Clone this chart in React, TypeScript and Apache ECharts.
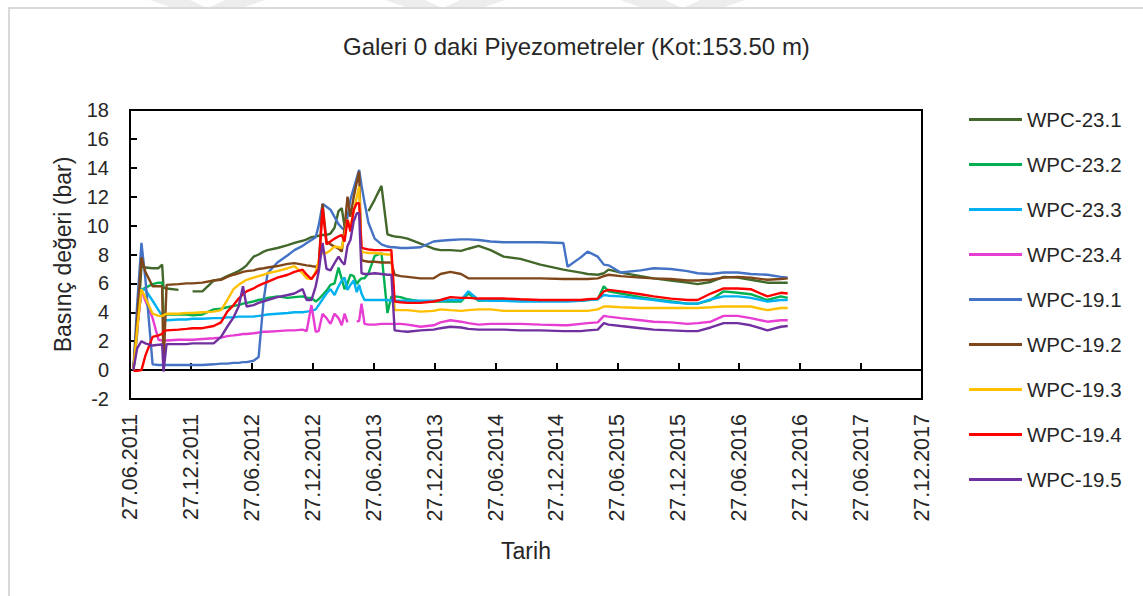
import React, { useEffect, useRef } from "react";
import * as echarts from "echarts";

// Measurement dates (DD.MM.YYYY), shared by all piezometers
const dates = [
  "07.07.2011", "18.07.2011", "31.07.2011", "12.08.2011", "03.09.2011", "21.09.2011", "02.10.2011", "06.10.2011", "15.10.2011", "20.11.2011",
  "14.12.2011", "01.01.2012", "31.01.2012", "05.03.2012", "26.03.2012", "14.04.2012", "03.05.2012", "18.05.2012", "31.05.2012", "11.06.2012",
  "02.07.2012", "17.07.2012", "01.08.2012", "13.08.2012", "12.09.2012", "13.10.2012", "02.11.2012", "27.11.2012", "09.12.2012", "23.12.2012",
  "05.01.2013", "14.01.2013", "26.01.2013", "07.02.2013", "19.02.2013", "03.03.2013", "14.03.2013", "23.03.2013", "31.03.2013", "09.04.2013",
  "18.04.2013", "28.04.2013", "07.05.2013", "14.05.2013", "21.05.2013", "30.05.2013", "11.06.2013", "30.06.2013", "20.07.2013", "07.08.2013",
  "19.08.2013", "29.08.2013", "16.09.2013", "07.10.2013", "15.11.2013", "24.12.2013", "14.01.2014", "13.02.2014", "16.03.2014", "06.04.2014",
  "07.05.2014", "12.06.2014", "21.07.2014", "10.09.2014", "09.11.2014", "17.01.2015", "30.01.2015", "10.03.2015", "29.03.2015", "29.04.2015",
  "17.05.2015", "31.05.2015", "07.07.2015", "05.09.2015", "14.10.2015", "05.12.2015", "24.01.2016", "24.02.2016", "02.04.2016", "11.05.2016",
  "22.06.2016", "31.07.2016", "20.09.2016", "30.10.2016", "20.11.2016",
];

const wpc231 = [
  0, 2.5, 7.2, 7.1, 7.05, 7.05, 7.3, 5.7, 5.65, 5.55,
  null, 5.45, 5.45, 6.2, 6.3, 6.5, 6.7, 6.85, 7.05, 7.25,
  7.85, 8.0, 8.2, 8.3, 8.45, 8.65, 8.8, 8.95, 9.05, 9.2,
  9.25, 9.3, 9.35, 9.35, 9.45, 9.85, 11.0, 11.2, 9.95, null,
  null, null, null, null, null, null, 11.0, 11.8, 12.75, 9.4,
  9.3, 9.25, 9.2, 9.1, 8.75, 8.4, 8.3, 8.3, 8.25, 8.4,
  8.6, 8.3, 7.85, 7.7, 7.3, 6.95, 6.9, 6.75, 6.65, 6.6,
  6.7, 6.95, 6.75, 6.5, 6.35, 6.2, 6.05, 5.95, 6.1, 6.45,
  6.4, 6.25, 6.05, 6.05, 6.05,
];
const wpc232 = [
  0, 3.0, 5.55, 5.7, 5.95, 6.05, 6.05, 3.9, 3.85, 3.85,
  3.85, 3.8, 3.85, 4.2, 4.25, 4.35, 4.45, 4.5, 4.6, 4.65,
  4.75, 4.85, 4.9, 5.0, 5.1, 5.0, 5.05, 5.1, 5.0, 5.0,
  4.75, 4.9, 5.2, 5.5, 5.9, 6.0, 7.1, 6.3, 5.6, 6.0,
  6.6, 6.5, 5.95, 6.2, 6.35, 6.35, 6.7, 7.9, 8.1, 3.95,
  5.1, 5.1, 5.05, 4.9, 4.75, 4.75, 4.75, 4.75, 4.75, 5.3,
  4.8, 4.85, 4.85, 4.85, 4.8, 4.8, 4.8, 4.8, 4.85, 4.9,
  5.8, 5.45, 5.3, 5.05, 4.9, 4.75, 4.6, 4.6, 4.85, 5.45,
  5.35, 5.25, 4.85, 5.1, 5.0,
];
const wpc233 = [
  0, 3.0, 5.6, 5.55, 4.8, 4.15, 3.75, 3.55, 3.45, 3.5,
  3.5, 3.55, 3.55, 3.6, 3.6, 3.65, 3.65, 3.7, 3.7, 3.7,
  3.7, 3.75, 3.8, 3.85, 3.9, 3.95, 4.0, 4.0, 4.05, 4.1,
  4.2, 4.5, 4.9, 5.3, 5.6, 5.2, 5.8, 6.2, 6.4, 5.55,
  5.9, 6.2, 5.4, 5.9, 5.3, 4.85, 4.85, 4.85, 4.85, 4.85,
  4.8, 4.8, 4.8, 4.8, 4.8, 4.8, 4.8, 4.85, 4.85, 5.45,
  4.85, 4.8, 4.8, 4.75, 4.75, 4.75, 4.75, 4.8, 4.85, 4.9,
  5.2, 5.15, 5.1, 4.95, 4.85, 4.7, 4.6, 4.6, 4.9, 5.1,
  5.1, 5.0, 4.75, 4.85, 4.85,
];
const wpc234 = [
  0, 2.8, 5.5, 4.8, 3.6, 2.1, 2.05, 2.05, 2.05, 2.1,
  2.1, 2.1, 2.15, 2.2, 2.25, 2.35, 2.4, 2.45, 2.5, 2.5,
  2.55, 2.6, 2.65, 2.65, 2.7, 2.75, 2.75, 2.8, 2.7, 4.5,
  2.65, 2.7, 3.9, 3.6, 3.2, 3.9, 3.6, 3.1, 3.9, 3.3,
  null, null, 3.35, 3.4, 4.6, 3.2, 3.15, 3.15, 3.2, 3.2,
  3.2, 3.2, 3.2, 3.15, 3.0, 3.1, 3.3, 3.45, 3.35, 3.25,
  3.15, 3.2, 3.2, 3.2, 3.15, 3.1, 3.1, 3.2, 3.25, 3.3,
  3.75, 3.7, 3.6, 3.45, 3.35, 3.3, 3.2, 3.25, 3.35, 3.75,
  3.75, 3.6, 3.35, 3.45, 3.45,
];
const wpc191 = [
  0, 4.5, 8.8, 6.3, 0.4, 0.35, 0.35, 0.35, 0.35, 0.35,
  0.35, 0.35, 0.35, 0.4, 0.45, 0.45, 0.5, 0.5, 0.55, 0.55,
  0.65, 0.9, 4.85, 6.7, 7.45, 7.95, 8.3, 8.6, 8.8, 9.0,
  9.2, 10.0, 11.5, 11.3, 11.1, 10.6, 10.1, 9.85, 9.7, 10.6,
  11.8, 12.6, 13.3, 13.85, 12.8, 11.6, 10.2, 9.1, 8.7, 8.55,
  8.5, 8.5, 8.45, 8.45, 8.5, 8.9, 8.95, 9.0, 9.05, 9.05,
  9.0, 8.9, 8.85, 8.85, 8.85, 8.8, 7.15, 7.8, 8.2, 7.85,
  7.3, 7.25, 6.75, 6.9, 7.05, 7.0, 6.85, 6.7, 6.65, 6.75,
  6.75, 6.65, 6.6, 6.45, 6.4,
];
const wpc192 = [
  0, 3.5, 7.8, 6.8, 5.8, 5.8, 5.8, 0.1, 5.9, 5.95,
  6.0, 6.0, 6.05, 6.2, 6.25, 6.45, 6.6, 6.7, 6.8, 6.85,
  6.9, 7.0, 7.05, 7.1, 7.2, 7.35, 7.4, 7.3, 7.25, 7.2,
  7.15, 7.3, 11.5, 8.9, 8.7, 8.55, 8.4, 8.2, 9.8, 12.0,
  10.6, 12.0, 13.0, 13.75, 7.6, 7.55, 7.5, 7.5, 7.45, 7.45,
  7.45, 6.6, 6.5, 6.45, 6.35, 6.35, 6.65, 6.8, 6.65, 6.35,
  6.35, 6.35, 6.35, 6.35, 6.35, 6.3, 6.3, 6.3, 6.3, 6.35,
  6.5, 6.6, 6.5, 6.4, 6.35, 6.3, 6.2, 6.2, 6.25, 6.4,
  6.45, 6.4, 6.25, 6.3, 6.35,
];
const wpc193 = [
  0, 2.8, 5.6, 5.0, 3.9, 3.75, 3.75, 3.8, 3.9, 3.9,
  3.95, 3.95, 4.0, 4.05, 4.15, 4.85, 5.6, 5.9, 6.1, 6.25,
  6.4, 6.5, 6.6, 6.7, 6.85, 7.05, 7.2, 6.7, 6.35, 6.3,
  6.8, 7.6, 8.2, 8.1, 8.3, 8.55, 8.5, 8.45, 9.3, 10.4,
  9.95, 11.0, 12.0, 12.7, 8.2, 8.15, 8.1, 8.1, 8.05, 8.0,
  8.0, 4.15, 4.15, 4.15, 4.05, 4.1, 4.2, 4.15, 4.1, 4.15,
  4.2, 4.2, 4.1, 4.1, 4.1, 4.1, 4.1, 4.1, 4.1, 4.2,
  4.4, 4.4, 4.35, 4.3, 4.3, 4.3, 4.3, 4.3, 4.35, 4.4,
  4.4, 4.4, 4.15, 4.3, 4.3,
];
const wpc194 = [
  -0.05, -0.05, 0.0, 1.0, 2.3, 2.4, 2.5, 2.7, 2.75, 2.8,
  2.85, 2.9, 2.9, 3.05, 3.3, 4.05, 4.5, 4.95, 5.25, 5.45,
  5.65, 5.85, 6.0, 6.1, 6.4, 6.6, 6.8, 6.95, 6.6, 6.3,
  6.7, 7.0, 11.2, 8.7, 8.9, 9.1, 9.25, 9.35, 8.9, 10.4,
  9.6, 11.1, 11.55, 11.55, 8.5, 8.4, 8.35, 8.3, 8.3, 8.3,
  8.3, 4.75, 4.7, 4.65, 4.65, 4.75, 4.85, 5.05, 5.0, 5.0,
  4.95, 4.95, 4.95, 4.9, 4.85, 4.85, 4.85, 4.85, 4.9, 4.95,
  5.45, 5.55, 5.45, 5.25, 5.1, 4.95, 4.85, 4.85, 5.3, 5.65,
  5.65, 5.6, 5.1, 5.35, 5.3,
];
const wpc195 = [
  0, 1.5, 2.0, 1.85, 1.7, 1.75, 1.8, -0.1, 1.8, 1.8,
  1.8, 1.85, 1.85, 1.85, 2.3, 3.0, 3.65, 4.4, 5.8, 4.4,
  4.5, 4.65, 4.75, 4.85, 5.05, 5.2, 5.3, 5.6, 4.85, 4.85,
  5.8, 6.8, 8.8, 7.0, 6.9, 7.4, 7.85, 7.5, 7.3, 8.6,
  9.0, 10.3, 10.85, 10.85, 6.7, 6.65, 6.65, 6.7, 6.65, 6.6,
  6.6, 2.75, 2.7, 2.65, 2.75, 2.8, 2.9, 3.0, 2.95, 2.85,
  2.8, 2.8, 2.8, 2.75, 2.75, 2.7, 2.7, 2.7, 2.75, 2.8,
  3.25, 3.15, 3.05, 2.9, 2.8, 2.75, 2.7, 2.7, 2.95, 3.25,
  3.25, 3.1, 2.75, 3.0, 3.05,
];

const seriesNames = ["WPC-23.1", "WPC-23.2", "WPC-23.3", "WPC-23.4", "WPC-19.1", "WPC-19.2", "WPC-19.3", "WPC-19.4", "WPC-19.5"];
const seriesValues = [wpc231, wpc232, wpc233, wpc234, wpc191, wpc192, wpc193, wpc194, wpc195];
const seriesColors = ["#43682B", "#00B050", "#00B0F0", "#E83DD2", "#4472C4", "#7F4619", "#FFC000", "#FF0000", "#7030A0"];

const titleText = "Galeri 0 daki Piyezometreler (Kot:153.50 m)";
const xAxisTitle = "Tarih";
const yAxisTitle = "Basınç değeri (bar)";

// months elapsed since 27.06.2011 (axis ticks fall on the 27th every 6 months)
function toMonths(s: string): number {
  const [d, m, y] = s.split(".").map(Number);
  let ay = y;
  let am = m;
  if (d < 27) {
    am -= 1;
    if (am < 1) {
      am = 12;
      ay -= 1;
    }
  }
  let ny = ay;
  let nm = am + 1;
  if (nm > 12) {
    nm = 1;
    ny += 1;
  }
  const anchor = Date.UTC(ay, am - 1, 27);
  const next = Date.UTC(ny, nm - 1, 27);
  const t = Date.UTC(y, m - 1, d);
  return (ay - 2011) * 12 + (am - 6) + (t - anchor) / (next - anchor);
}

function monthLabel(v: number): string {
  const total = 5 + Math.round(v);
  const y = 2011 + Math.floor(total / 12);
  const mo = (total % 12) + 1;
  return `27.${mo < 10 ? "0" + mo : mo}.${y}`;
}

const FONT = "'Liberation Sans', Arial, sans-serif";
const TEXT = "#262626";
const WATERMARK = "#EDEDED";

export default function App() {
  const ref = useRef<HTMLDivElement>(null);

  useEffect(() => {
    if (!ref.current) return;
    const chart = echarts.init(ref.current, undefined, { renderer: "svg" });
    const xs = dates.map(toMonths);

    chart.setOption({
      animation: false,
      backgroundColor: "#ffffff",
      textStyle: { fontFamily: FONT },
      title: {
        text: titleText,
        left: 338,
        top: 29,
        textStyle: { fontFamily: FONT, fontSize: 24, fontWeight: "normal", color: TEXT },
      },
      graphic: [
        {
          type: "polygon",
          silent: true,
          shape: { points: [[150, 0], [190, 0], [205, 7], [170, 7]] },
          style: { fill: WATERMARK },
        },
        {
          type: "polygon",
          silent: true,
          shape: { points: [[225, 0], [265, 0], [245, 7], [210, 7]] },
          style: { fill: WATERMARK },
        },
        {
          type: "polygon",
          silent: true,
          shape: { points: [[385, 0], [425, 0], [440, 7], [405, 7]] },
          style: { fill: WATERMARK },
        },
        {
          type: "polygon",
          silent: true,
          shape: { points: [[460, 0], [505, 0], [485, 7], [445, 7]] },
          style: { fill: WATERMARK },
        },
        {
          type: "polygon",
          silent: true,
          shape: { points: [[620, 0], [665, 0], [680, 7], [640, 7]] },
          style: { fill: WATERMARK },
        },
        {
          type: "polygon",
          silent: true,
          shape: { points: [[700, 0], [745, 0], [725, 7], [685, 7]] },
          style: { fill: WATERMARK },
        },
        {
          type: "rect",
          silent: true,
          shape: { x: 9, y: 8, width: 1400, height: 800 },
          style: { fill: "none", stroke: "#D9D9D9", lineWidth: 2 },
        },
      ],
      legend: {
        orient: "vertical",
        left: 964,
        top: 104,
        itemWidth: 53,
        itemHeight: 3,
        itemGap: 24,
        icon: "rect",
        data: seriesNames,
        textStyle: { fontFamily: FONT, fontSize: 20.5, color: TEXT, lineHeight: 20 },
      },
      grid: {
        left: 130,
        top: 110,
        width: 792,
        height: 289,
        show: true,
        borderColor: "#000",
        borderWidth: 2,
        backgroundColor: "transparent",
      },
      xAxis: {
        type: "value",
        min: 0,
        max: 78,
        interval: 6,
        name: xAxisTitle,
        nameLocation: "middle",
        nameGap: 140,
        nameTextStyle: { fontFamily: FONT, fontSize: 23, color: TEXT },
        axisLine: { show: true, lineStyle: { color: "#000", width: 2 } },
        axisTick: { show: true, inside: true, length: 7, lineStyle: { color: "#000", width: 2 } },
        splitLine: { show: false },
        axisLabel: {
          rotate: 90,
          margin: 15,
          fontFamily: FONT,
          fontSize: 21.5,
          color: TEXT,
          formatter: (v: number) => monthLabel(v),
        },
      },
      yAxis: {
        type: "value",
        min: -2,
        max: 18,
        interval: 2,
        name: yAxisTitle,
        nameLocation: "middle",
        nameGap: 56,
        nameTextStyle: { fontFamily: FONT, fontSize: 23, color: TEXT },
        axisLine: { show: true, lineStyle: { color: "#000", width: 2 } },
        axisTick: { show: true, inside: true, length: 7, lineStyle: { color: "#000", width: 2 } },
        splitLine: { show: false },
        axisLabel: { margin: 21, fontFamily: FONT, fontSize: 20, color: TEXT },
      },
      series: seriesNames.map((name, i) => ({
        name,
        type: "line",
        data: xs.map((x, j) => [x, seriesValues[i][j]]),
        showSymbol: false,
        symbol: "none",
        connectNulls: false,
        color: seriesColors[i],
        lineStyle: { color: seriesColors[i], width: 2.4 },
        emphasis: { disabled: true },
      })),
    });

    return () => chart.dispose();
  }, []);

  return (
    <div
      ref={ref}
      style={{ position: "fixed", left: 0, top: 0, width: 1143, height: 596, background: "#fff" }}
    />
  );
}
